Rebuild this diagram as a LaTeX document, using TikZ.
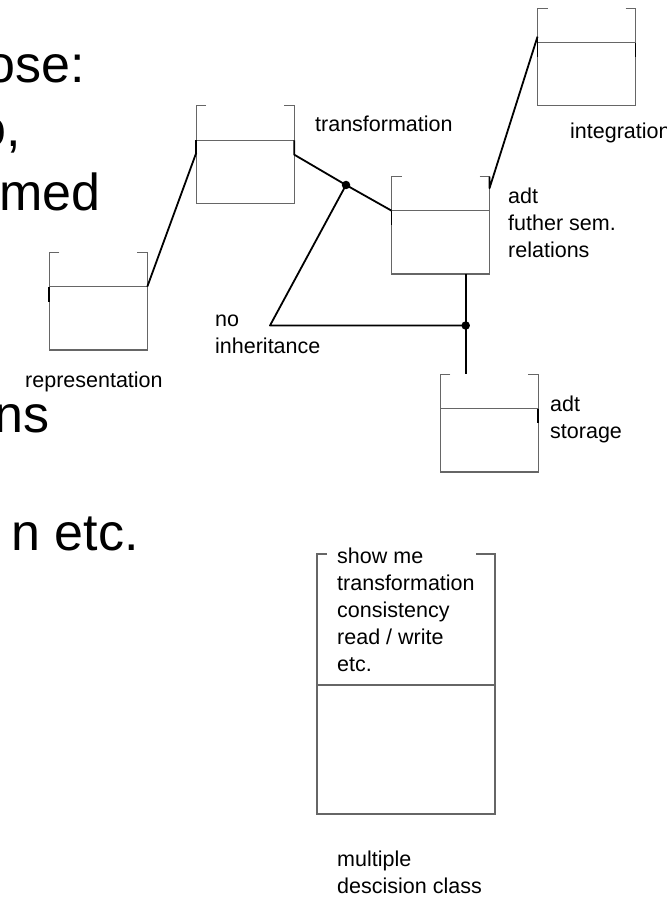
\documentclass[tikz,border=0pt]{standalone}
\usepackage{fontspec}
\setmainfont{Liberation Sans}
\usetikzlibrary{positioning}

\tikzset{
    boxline/.style={draw=black!60, line width=1.1pt},
    lower/.style={boxline, rectangle, inner sep=0pt, outer sep=0pt,
        minimum width=98pt, minimum height=63.3pt},
    link/.style={line width=1.8pt, line join=round},
    joint/.style={circle, fill, inner sep=0pt, minimum size=8.5pt},
    tag/.style={font=\fontsize{21.5}{27}\selectfont, align=left, inner sep=0pt},
    big/.style={font=\fontsize{52}{62}\selectfont, inner sep=0pt},
}

% open lid on top of a box: name, lid height, left tick, right tick
\newcommand{\boxlid}[4]{%
    \coordinate (#1-nw) at ([yshift=#2pt]#1.north west);
    \coordinate (#1-ne) at ([yshift=#2pt]#1.north east);
    \draw[boxline] ([xshift=#3pt]#1-nw) -- (#1-nw) -- (#1.north west);
    \draw[boxline] ([xshift=-#4pt]#1-ne) -- (#1-ne) -- (#1.north east);
}

\begin{document}
\begin{tikzpicture}[x=1pt,y=-1pt]
    \useasboundingbox (0,0) rectangle (666,901);
    \clip (0,0) rectangle (666,901);

    % slide text running in from the left
    \node[big, anchor=base east] (purpose) at (85,83) {ose:};
    \node[big, anchor=base east] (comma) at (21.5,147) {o,};
    \node[big, anchor=base east] (named) at (101,211) {med};
    \node[big, anchor=base east] (plural) at (50,432) {ns};
    \node[big, anchor=base east] (etc) at (139,550) {n etc.};

    % boxes
    \node[lower] (repr) at (98.3,318.3) {};
    \boxlid{repr}{34}{10}{10}
    \node[lower] (trans) at (245.2,172) {};
    \boxlid{trans}{34.7}{10}{10}
    \node[lower] (adt) at (440.5,242.3) {};
    \boxlid{adt}{34}{10}{10}
    \node[lower] (integ) at (586.5,74.3) {};
    \boxlid{integ}{34.4}{10}{10}
    \node[lower] (store) at (489.3,440.3) {};
    \boxlid{store}{34.3}{10}{10}
    \node[lower, minimum width=178pt, minimum height=129pt] (decide) at (406,749.5) {};
    \boxlid{decide}{131}{10}{19}

    % labels (base = last line)
    \node[tag, anchor=base west] (reprlbl) at (25,387) {representation};
    \node[tag, anchor=base west] (translbl) at (315,131.5) {transformation};
    \node[tag, anchor=base west] (integlbl) at (570,139) {integration};
    \node[tag, anchor=base west] (adtlbl) at (508,257) {adt\\futher sem.\\relations};
    \node[tag, anchor=base west] (nolbl) at (215,353) {no\\inheritance};
    \node[tag, anchor=base west] (storelbl) at (550,438) {adt\\storage};
    \node[tag, anchor=base west] (decidetxt) at (337,671) {show me\\transformation\\consistency\\read / write\\etc.};
    \node[tag, anchor=base west] (decidelbl) at (337,893) {multiple\\descision class};

    % joints
    \node[joint] (split) at (346,185) {};
    \node[joint] (merge) at (465.7,325.5) {};
    \coordinate (bend) at (270,325.5);

    % connections
    \draw[link] (repr.north east) -- ([yshift=-12.6pt]trans.north west);
    \draw[link] (trans.north east) -- ([yshift=-14.3pt]trans.north east) -- (split.center) -- (adt.north west);
    \draw[link] (split.center) -- (bend) -- (merge.center);
    \draw[link] (adt.south -| merge) -- (merge.center) -- (store-nw -| merge);
    \draw[link] (adt-ne) -- ([yshift=-11.6pt]adt-ne) -- ([yshift=6pt]integ.north west);

    % short ports under the lids
    \draw[link] (repr.north west) -- ([yshift=-15pt]repr.north west);
    \draw[link] (trans.north west) -- ([yshift=-12.6pt]trans.north west);
    \draw[link] (adt.north west) -- ([yshift=-14.3pt]adt.north west);
    \draw[link] ([yshift=6pt]integ.north west) -- ([yshift=-14pt]integ.north west);
    \draw[link] (integ.north east) -- ([yshift=-14pt]integ.north east);
    \draw[link] (store.north east) -- ([yshift=-14.3pt]store.north east);
\end{tikzpicture}
\end{document}
